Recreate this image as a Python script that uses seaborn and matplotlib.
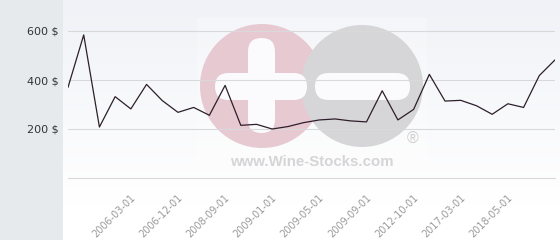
import numpy as np
import pandas as pd
import matplotlib
matplotlib.use("Agg")
import matplotlib.pyplot as plt
import seaborn as sns
from matplotlib.patches import Rectangle, Circle, FancyBboxPatch
import matplotlib.transforms as mtransforms

# ---- data ----
prices = [370, 584, 208, 332, 282, 382, 316, 268, 288, 256, 378, 215, 219, 200,
          210, 226, 237, 241, 233, 229, 356, 237, 280, 423, 314, 317, 295, 260,
          303, 288, 418, 482]
tick_labels = ["2006-03-01", "2006-12-01", "2008-09-01", "2009-01-01", "2009-05-01",
               "2009-09-01", "2012-10-01", "2017-03-01", "2018-05-01"]
y_ticks = [200, 400, 600]
y_tick_labels = ["200 $", "400 $", "600 $"]

df = pd.DataFrame({"idx": np.arange(len(prices)), "price": prices})

sns.set_theme(style="white")
plt.rcParams["font.family"] = ["DejaVu Sans"]

W, H = 560, 240
fig = plt.figure(figsize=(W / 100, H / 100), dpi=100)
fig.patch.set_facecolor("white")

# background: left panel + gradient plot region
bg = fig.add_axes([0, 0, 1, 1], zorder=0)
bg.axis("off")
grad = np.linspace(0, 1, 256).reshape(-1, 1)
top = np.array([240, 242, 247]) / 255.0
bot = np.array([255, 255, 255]) / 255.0
g = np.clip(grad / 0.85, 0, 1)
img = top[None, None, :] * (1 - g[..., None]) + bot[None, None, :] * g[..., None]
bg.imshow(img, extent=(63, W, H, 0), aspect="auto", zorder=0)
bg.add_patch(Rectangle((0, 0), 63, H, color="#e6eaed", lw=0, zorder=1))
bg.set_xlim(0, W)
bg.set_ylim(H, 0)

# watermark
wm = fig.add_axes([0, 0, 1, 1], zorder=0.5)
wm.set_xlim(0, W)
wm.set_ylim(H, 0)
wm.axis("off")
wm.patch.set_alpha(0)
wm.add_patch(Rectangle((197, 18), 230, 155, color="white", alpha=0.25, lw=0))
wm.add_patch(Circle((262, 86), 62, color="#e7c9d2", lw=0))
wm.add_patch(Circle((362, 86), 61, color="#d6d6d8", lw=0))
def capsule(x0, y0, x1, y1):
    w, h = x1 - x0, y1 - y0
    r = min(w, h) / 2
    wm.add_patch(FancyBboxPatch((x0 + r, y0 + r), w - 2 * r, h - 2 * r,
                                boxstyle=f"round,pad={r}", color="#fbfbfd", lw=0))
capsule(248, 38, 275, 133)
capsule(215, 73, 307, 100)
capsule(315, 73, 410, 100)
wm.text(312, 166, "www.Wine-Stocks.com", fontsize=10.8, fontweight="bold",
        family=["Liberation Sans", "DejaVu Sans"], color="#d5d5d7",
        ha="center", va="baseline")
wm.text(413, 139, "®", fontsize=11.5, family=["Liberation Sans", "DejaVu Sans"],
        color="#cfcfd1", ha="center", va="center")

# main chart
ax = fig.add_axes([68 / W, (H - 178) / H, (555 - 68) / W, 178 / H], zorder=1)
ax.patch.set_alpha(0)
sns.lineplot(data=df, x="idx", y="price", ax=ax, color="#2d1f2a", linewidth=0.9)
ax.set_xlim(0, len(prices) - 1)
ax.set_ylim(0, 178 / 49 * 200)
for s in ax.spines.values():
    s.set_visible(False)
ax.set_xlabel("")
ax.set_ylabel("")
ax.set_yticks(y_ticks)
ax.set_yticklabels(y_tick_labels)
ax.yaxis.grid(True, color="#d9d9d9", linewidth=0.8)
ax.axhline(0, color="#d9d9d9", linewidth=0.8, clip_on=False)
ax.tick_params(axis="y", length=0, pad=6.5, labelsize=8, labelcolor="#333333")

xpos = [4 + 3 * i for i in range(len(tick_labels))]
ax.set_xticks(xpos)
ax.set_xticklabels(tick_labels, rotation=45, ha="right", va="center",
                   rotation_mode="anchor")
ax.tick_params(axis="x", length=0, pad=13, labelsize=7, labelcolor="#9a9a9a")
offset = mtransforms.ScaledTranslation(3 / 100, 0, fig.dpi_scale_trans)
for lab in ax.get_xticklabels():
    lab.set_transform(lab.get_transform() + offset)

fig.savefig("out.png", dpi=100)
